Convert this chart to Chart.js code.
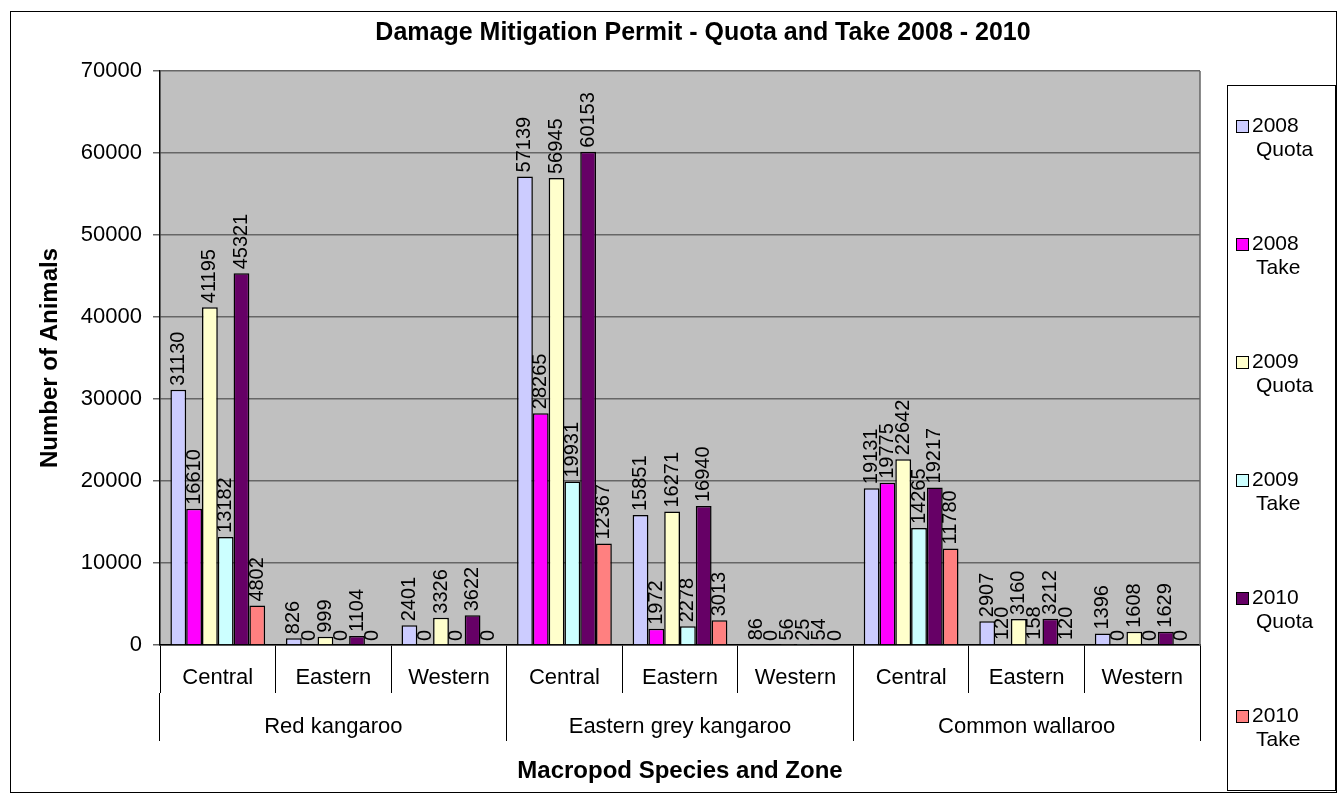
<!DOCTYPE html>
<html>
<head>
<meta charset="utf-8">
<script src="https://cdn.jsdelivr.net/npm/chart.js@4.4.1/dist/chart.umd.min.js"></script>
<style>
  html, body { margin: 0; padding: 0; background: #fff; }
  #wrap { width: 1337px; height: 803px; position: relative; }
</style>
</head>
<body>
<div id="wrap"><canvas id="chart"></canvas></div>
<script>
// カテゴリ（ゾーン）と種
const zones = ["Central", "Eastern", "Western", "Central", "Eastern", "Western", "Central", "Eastern", "Western"];
const species = ["Red kangaroo", "Eastern grey kangaroo", "Common wallaroo"];

// 系列データ
const quota2008 = [31130, 826, 2401, 57139, 15851, 86, 19131, 2907, 1396];
const take2008  = [16610, 0, 0, 28265, 1972, 0, 19775, 120, 0];
const quota2009 = [41195, 999, 3326, 56945, 16271, 56, 22642, 3160, 1608];
const take2009  = [13182, 0, 0, 19931, 2278, 25, 14265, 158, 0];
const quota2010 = [45321, 1104, 3622, 60153, 16940, 54, 19217, 3212, 1629];
const take2010  = [4802, 0, 0, 12367, 3013, 0, 11780, 120, 0];

const seriesNames = [["2008", "Quota"], ["2008", "Take"], ["2009", "Quota"], ["2009", "Take"], ["2010", "Quota"], ["2010", "Take"]];
const seriesColors = ["#CCCCFF", "#FF00FF", "#FFFFCC", "#CCFFFF", "#660066", "#FF8080"];
const seriesData = [quota2008, take2008, quota2009, take2009, quota2010, take2010];

const chartTitle = 'Damage Mitigation Permit - Quota and Take 2008 - 2010';
const yMax = 70000;
const yStep = 10000;

const FONT = "'Liberation Sans', Arial, sans-serif";

// プロットエリアの背景・外枠・タイトル
const backgroundPlugin = {
    id: 'background',
    beforeDraw(chart) {
        const ctx = chart.ctx;
        const a = chart.chartArea;
        ctx.save();
        ctx.fillStyle = '#fff';
        ctx.fillRect(0, 0, chart.width, chart.height);
        ctx.strokeStyle = '#000';
        ctx.lineWidth = 1;
        ctx.strokeRect(10.5, 11.5, 1326, 781);
        ctx.fillStyle = '#C0C0C0';
        ctx.fillRect(a.left, a.top, a.right - a.left, a.bottom - a.top);
        // タイトル
        ctx.fillStyle = '#000';
        ctx.font = 'bold 25px ' + FONT;
        ctx.textAlign = 'center';
        ctx.textBaseline = 'middle';
        ctx.fillText(chartTitle, 703, 33);
        ctx.restore();
    },
    beforeDatasetsDraw(chart) {
        const ctx = chart.ctx;
        const a = chart.chartArea;
        ctx.save();
        ctx.strokeStyle = '#666';
        ctx.lineWidth = 1.5;
        ctx.beginPath();
        ctx.moveTo(a.right, a.top);
        ctx.lineTo(a.right, a.bottom);
        ctx.stroke();
        ctx.restore();
    }
};

// 棒の上に縦書きの値ラベル
const valueLabelPlugin = {
    id: 'valueLabels',
    afterDatasetsDraw(chart) {
        const ctx = chart.ctx;
        ctx.save();
        ctx.fillStyle = '#000';
        ctx.font = '20px ' + FONT;
        ctx.textAlign = 'left';
        ctx.textBaseline = 'middle';
        chart.data.datasets.forEach((ds, i) => {
            const meta = chart.getDatasetMeta(i);
            meta.data.forEach((bar, j) => {
                ctx.save();
                ctx.translate(bar.x, bar.y - 4);
                ctx.rotate(-Math.PI / 2);
                ctx.fillText(String(ds.data[j]), 0, 0);
                ctx.restore();
            });
        });
        ctx.restore();
    }
};

// 右側の凡例（2行表示）
const legendPlugin = {
    id: 'boxLegend',
    afterDraw(chart) {
        const ctx = chart.ctx;
        ctx.save();
        ctx.fillStyle = '#fff';
        ctx.fillRect(1227, 85, 108, 705);
        ctx.strokeStyle = '#000';
        ctx.lineWidth = 1;
        ctx.strokeRect(1227.5, 85.5, 108, 705);
        ctx.font = '21px ' + FONT;
        ctx.textBaseline = 'middle';
        ctx.textAlign = 'left';
        chart.data.datasets.forEach((ds, i) => {
            const y = 126 + i * 118;
            ctx.fillStyle = ds.backgroundColor;
            ctx.fillRect(1236, y - 6, 13, 13);
            ctx.strokeStyle = '#000';
            ctx.strokeRect(1236.5, y - 5.5, 12, 12);
            ctx.fillStyle = '#000';
            ctx.fillText(ds.label[0], 1252, y);
            ctx.fillText(ds.label[1], 1256, y + 24);
        });
        ctx.restore();
    }
};

const ctx = document.getElementById('chart').getContext('2d');
new Chart(ctx, {
    type: 'bar',
    data: {
        labels: zones,
        datasets: seriesData.map((d, i) => ({
            label: seriesNames[i],
            data: d,
            backgroundColor: seriesColors[i],
            borderColor: '#000',
            borderWidth: 1.5,
            categoryPercentage: 0.82,
            barPercentage: 1.0
        }))
    },
    options: {
        responsive: true,
        maintainAspectRatio: false,
        animation: false,
        layout: { padding: { left: 10, top: 71, right: 137, bottom: 10 } },
        plugins: {
            legend: { display: false },
            tooltip: { enabled: false },
            title: { display: false }
        },
        scales: {
            x: {
                type: 'category',
                position: 'bottom',
                offset: true,
                grid: { offset: true, drawOnChartArea: false, color: '#000', lineWidth: 1, tickLength: 48 },
                border: { display: true, color: '#000', width: 1.5 },
                ticks: { color: '#000', font: { family: FONT, size: 22 }, padding: -28, maxRotation: 0, autoSkip: false },
                afterFit(scale) { scale.height = 48; }
            },
            x2: {
                type: 'category',
                position: 'bottom',
                labels: species,
                offset: true,
                grid: { offset: true, drawOnChartArea: false, color: '#000', lineWidth: 1, tickLength: 48 },
                border: { display: false },
                ticks: { color: '#000', font: { family: FONT, size: 22 }, padding: -27, maxRotation: 0, autoSkip: false },
                title: {
                    display: true,
                    text: 'Macropod Species and Zone',
                    color: '#000',
                    font: { family: FONT, size: 24, weight: 'bold' },
                    padding: { top: 0, bottom: 7 }
                },
                afterFit(scale) { scale.height = 100; }
            },
            y: {
                min: 0,
                max: yMax,
                ticks: {
                    stepSize: yStep,
                    color: '#000',
                    font: { family: FONT, size: 22 },
                    padding: 11,
                    callback: (v) => String(v)
                },
                grid: { color: '#666', lineWidth: 1.5, tickLength: 7 },
                border: { display: true, color: '#000', width: 1.5 },
                title: {
                    display: true,
                    text: 'Number of Animals',
                    color: '#000',
                    font: { family: FONT, size: 24, weight: 'bold' },
                    padding: { top: 26, bottom: 0 }
                },
                afterFit(scale) { scale.width = 150; }
            }
        }
    },
    plugins: [backgroundPlugin, valueLabelPlugin, legendPlugin]
});
</script>
</body>
</html>
